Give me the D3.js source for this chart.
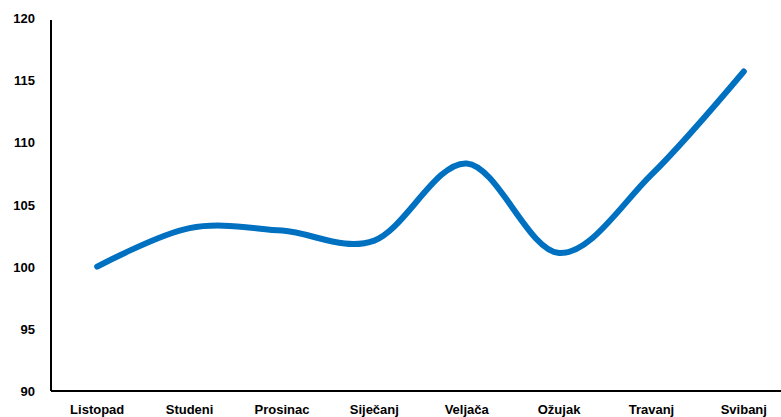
<!DOCTYPE html>
<html>
<head>
<meta charset="utf-8">
<script src="https://cdn.jsdelivr.net/npm/d3@7"></script>
<style>
  body { margin: 0; background: #fff; }
  text { font-family: "Liberation Sans", Arial, sans-serif; font-weight: bold; font-size: 13px; fill: #000; }
</style>
</head>
<body>
<script>
// months and index values
var months = ["Listopad", "Studeni", "Prosinac", "Siječanj", "Veljača", "Ožujak", "Travanj", "Svibanj"];
var values = [100, 103.1, 102.9, 102.1, 108.3, 101.1, 107.4, 115.7];
var yTicks = [90, 95, 100, 105, 110, 115, 120];

var w = 781, h = 417;
var svg = d3.select("body").append("svg")
    .attr("width", w)
    .attr("height", h);

// plot area runs a little past the right edge of the picture
var plotLeft = 51, plotRight = 790, plotTop = 18, plotBottom = 391;

var x = d3.scaleBand()
    .domain(months)
    .range([plotLeft, plotRight]);

var y = d3.scaleLinear()
    .domain([90, 120])
    .range([plotBottom, plotTop]);

// y axis
var yAxis = svg.append("g")
    .attr("transform", "translate(" + plotLeft + ",0)")
    .call(d3.axisLeft(y).tickValues(yTicks).tickSize(0).tickPadding(16));
yAxis.select(".domain").attr("stroke", "#000").attr("stroke-width", 2)
    .attr("d", "M0," + (plotTop + 2) + "V" + plotBottom);
yAxis.selectAll("text").attr("dy", "0.35em");

// x axis
var xAxis = svg.append("g")
    .attr("transform", "translate(0," + plotBottom + ")")
    .call(d3.axisBottom(x).tickSize(0).tickPadding(14));
xAxis.select(".domain").attr("stroke", "#000").attr("stroke-width", 2)
    .attr("d", "M" + plotLeft + ",0H" + w);

// smoothed line
var line = d3.line()
    .x(function(d, i){ return x(months[i]) + x.bandwidth() / 2; })
    .y(function(d){ return y(d); })
    .curve(d3.curveCardinal.tension(0));

svg.append("path")
    .datum(values)
    .attr("d", line)
    .attr("fill", "none")
    .attr("stroke", "#0070C0")
    .attr("stroke-width", 6)
    .attr("stroke-linecap", "round");
</script>
</body>
</html>
